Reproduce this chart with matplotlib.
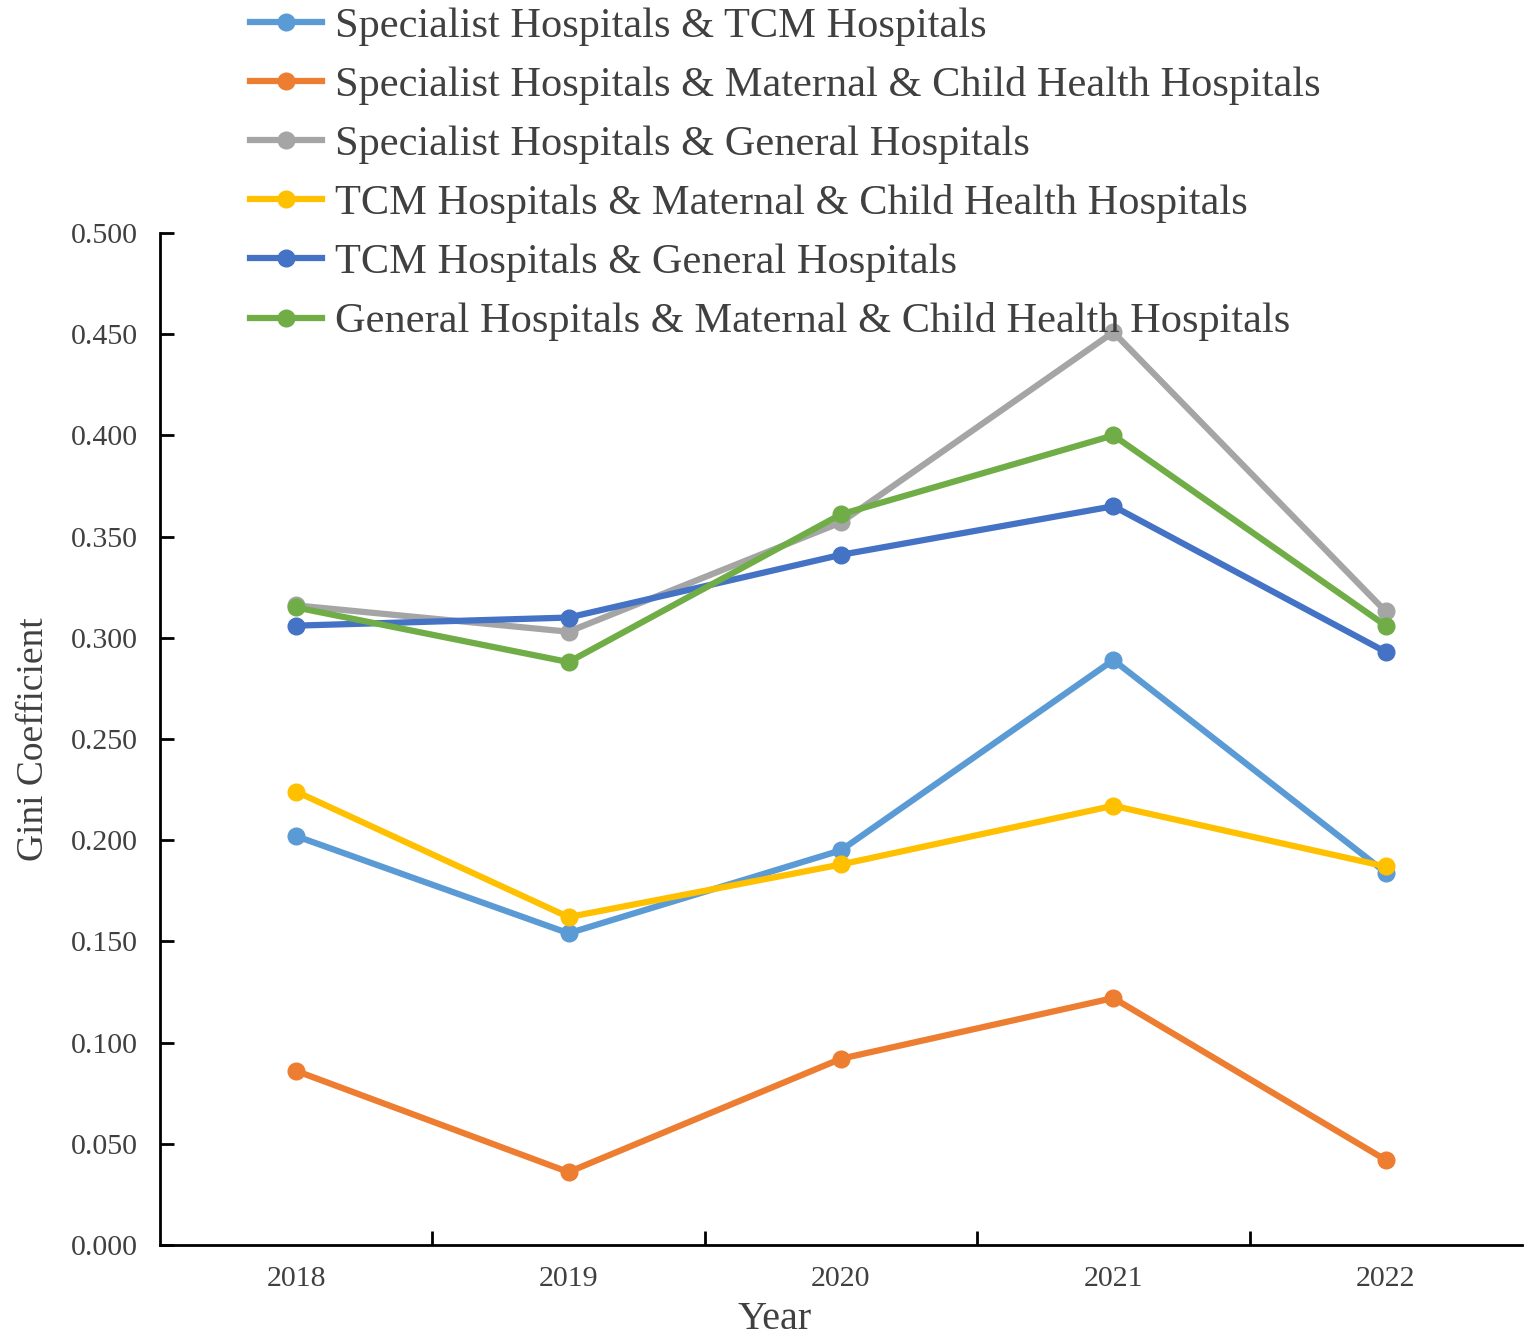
import matplotlib
matplotlib.use("Agg")
import matplotlib.pyplot as plt

years = ["2018", "2019", "2020", "2021", "2022"]
series_names = [
    "Specialist Hospitals & TCM Hospitals",
    "Specialist Hospitals & Maternal & Child Health Hospitals",
    "Specialist Hospitals & General Hospitals",
    "TCM Hospitals & Maternal & Child Health Hospitals",
    "TCM Hospitals & General Hospitals",
    "General Hospitals & Maternal & Child Health Hospitals",
]
spec_tcm = [0.202, 0.154, 0.195, 0.289, 0.184]
spec_mch = [0.086, 0.036, 0.092, 0.122, 0.042]
spec_gen = [0.316, 0.303, 0.357, 0.451, 0.313]
tcm_mch = [0.224, 0.162, 0.188, 0.217, 0.187]
tcm_gen = [0.306, 0.310, 0.341, 0.365, 0.293]
gen_mch = [0.315, 0.288, 0.361, 0.400, 0.306]
values = [spec_tcm, spec_mch, spec_gen, tcm_mch, tcm_gen, gen_mch]
colors = ["#5B9BD5", "#ED7D31", "#A5A5A5", "#FFC000", "#4472C4", "#70AD47"]

plt.rcParams['font.family'] = ['Liberation Serif', 'DejaVu Serif']
text_color = "#404040"

fig = plt.figure(figsize=(15.35, 13.43), dpi=100)
ax = fig.add_axes([0.1042, 0.073, 0.8873, 0.7535])

x = list(range(len(years)))
handles = []
for name, vals, c in zip(series_names, values, colors):
    h, = ax.plot(x, vals, color=c, linewidth=4.5, marker='o', markersize=12, label=name)
    handles.append(h)

ax.set_xlim(-0.5, len(years) - 0.5)
ax.set_ylim(0, 0.5)
yt = [i * 0.05 for i in range(11)]
ax.set_yticks(yt)
ax.set_yticklabels([f"{v:.3f}" for v in yt])
ax.set_xticks(x)
ax.set_xticklabels(years)
ax.set_xticks([i + 0.5 for i in range(len(years) - 1)], minor=True)

ax.tick_params(axis='y', direction='in', length=10, width=2, labelsize=21.5, labelcolor=text_color, pad=16)
ax.tick_params(axis='x', which='major', length=0, labelsize=21.5, labelcolor=text_color, pad=15)
ax.tick_params(axis='x', which='minor', direction='in', length=10, width=2)

for s in ['top', 'right']:
    ax.spines[s].set_visible(False)
for s in ['left', 'bottom']:
    ax.spines[s].set_linewidth(2)
    ax.spines[s].set_color('black')

ax.set_ylabel("Gini Coefficient", fontsize=27, color=text_color, labelpad=14)
ax.set_xlabel("Year", fontsize=29, color=text_color)
ax.xaxis.set_label_coords(0.4515, -0.055)

leg = fig.legend(handles=handles, loc='upper left', bbox_to_anchor=(0.152, 1.0075),
                 frameon=False, fontsize=30.5, handlelength=1.7, handletextpad=0.29,
                 labelspacing=0.48, labelcolor=text_color, borderaxespad=0)

fig.savefig("out.png", dpi=100)
